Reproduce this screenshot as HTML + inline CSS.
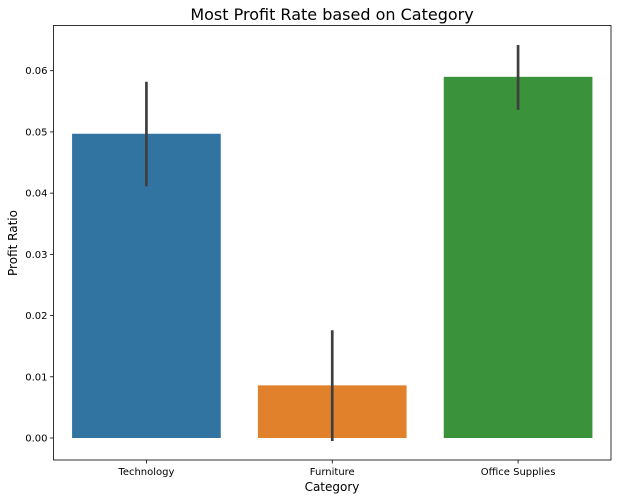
<!DOCTYPE html>
<html><head><meta charset="utf-8"><style>
html,body{margin:0;padding:0;background:#fff;}
svg{display:block;font-family:"DejaVu Sans","Liberation Sans",sans-serif;}
</style></head><body>
<svg id="chart" width="618" height="501">
<text x="332" y="20" text-anchor="middle" font-size="16" fill="#000">Most Profit Rate based on Category</text>
<text x="332" y="491" text-anchor="middle" font-size="12" fill="#000">Category</text>
<text transform="translate(17,243) rotate(-90)" text-anchor="middle" font-size="12" fill="#000">Profit Ratio</text>
<g id="plot"></g>
</svg>
<script>
const categories = ["Technology", "Furniture", "Office Supplies"];
const values = [0.0497, 0.0086, 0.0590];
const errLow = [0.0411, -0.0005, 0.0536];
const errHigh = [0.0582, 0.0176, 0.0642];
const colors = ["#3274a1", "#e1812c", "#3a923a"];
const yTicks = [0, 0.01, 0.02, 0.03, 0.04, 0.05, 0.06];
const yTickLabels = ["0.00", "0.01", "0.02", "0.03", "0.04", "0.05", "0.06"];

const L = 53.5, R = 611, T = 25.5, B = 460;
const y0px = 438, perUnit = (438 - 70.7) / 0.06;
function y(v){ return y0px - v * perUnit; }
const step = (R - L) / categories.length;
function x(i){ return L + step * (i + 0.5); }
const bw = step * 0.8;
const NS = "http://www.w3.org/2000/svg";
const g = document.getElementById('plot');
function mk(tag, attrs){ const e = document.createElementNS(NS, tag); for (const k in attrs) e.setAttribute(k, attrs[k]); g.appendChild(e); return e; }

categories.forEach((c, i) => {
  const bar = mk('rect', {x: x(i) - bw/2, y: y(values[i]), width: bw, height: y(0) - y(values[i]), fill: colors[i]});
  
  
  const err = mk('line', {x1: x(i), x2: x(i), y1: y(errLow[i]), y2: y(errHigh[i]), stroke: '#3f3f3f', 'stroke-width': 2.7});
  
  
  const tk = mk('line', {x1: x(i), x2: x(i), y1: B, y2: B + 3.5, stroke: '#000', 'stroke-width': 0.8});
  
  
  const t = mk('text', {x: x(i), y: B + 15, 'text-anchor': 'middle', 'font-size': 10, fill: '#000'});
  t.textContent = c;
  
  
});
yTicks.forEach((v, i) => {
  const tk = mk('line', {x1: L - 3.5, x2: L, y1: y(v), y2: y(v), stroke: '#000', 'stroke-width': 0.8});
  
  
  const t = mk('text', {x: L - 6, y: y(v) + 3.5, 'text-anchor': 'end', 'font-size': 10, fill: '#000'});
  t.textContent = yTickLabels[i];
  
  
});
const frame = mk('rect', {x: L, y: T, width: R - L, height: B - T, fill: 'none', stroke: '#000', 'stroke-width': 0.8});


</script>
</body></html>
